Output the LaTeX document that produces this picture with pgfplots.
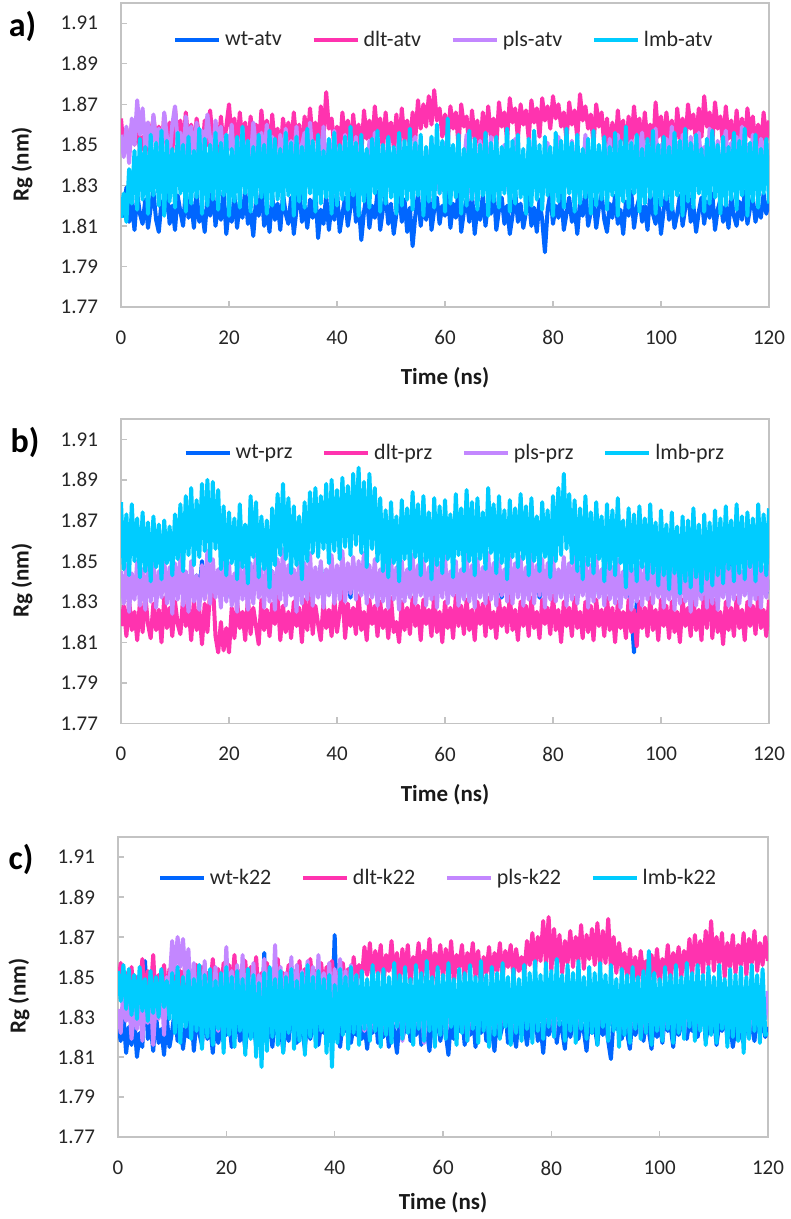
\documentclass[border=0pt]{standalone}
\usepackage{pgfplots}
\pgfplotsset{compat=1.18}
\usepackage{pgfplotstable}
\usepackage{fontspec}
\setmainfont{Carlito}
\definecolor{cwt}{RGB}{0,102,255}
\definecolor{cdlt}{RGB}{255,51,175}
\definecolor{cpls}{RGB}{195,135,255}
\definecolor{clmb}{RGB}{0,204,255}
\definecolor{framegray}{RGB}{195,195,195}

\pgfplotstableread{
t w d p l
0 1.824 1.863 1.855 1.814
0.5 1.815 1.848 1.844 1.826
1 1.829 1.858 1.859 1.812
1.5 1.812 1.846 1.841 1.838
2 1.821 1.860 1.863 1.821
2.5 1.808 1.850 1.850 1.847
3 1.826 1.862 1.872 1.818
3.5 1.816 1.847 1.855 1.853
4 1.811 1.854 1.868 1.823
4.5 1.823 1.844 1.849 1.849
5 1.809 1.861 1.861 1.816
5.5 1.819 1.849 1.843 1.855
6 1.827 1.864 1.865 1.825
6.5 1.813 1.852 1.852 1.851
7 1.807 1.859 1.858 1.820
7.5 1.822 1.845 1.840 1.857
8 1.816 1.865 1.866 1.815
8.5 1.830 1.850 1.854 1.852
9 1.811 1.861 1.844 1.822
9.5 1.820 1.846 1.860 1.848
10 1.808 1.868 1.869 1.819
10.5 1.825 1.853 1.851 1.856
11 1.817 1.862 1.856 1.826
11.5 1.810 1.848 1.839 1.850
12 1.828 1.866 1.864 1.817
12.5 1.814 1.851 1.849 1.854
13 1.822 1.860 1.859 1.821
13.5 1.809 1.847 1.842 1.847
14 1.826 1.863 1.861 1.824
14.5 1.812 1.854 1.835 1.858
15 1.818 1.844 1.857 1.816
15.5 1.807 1.862 1.848 1.853
16 1.824 1.850 1.865 1.820
16.5 1.815 1.867 1.853 1.850
17 1.829 1.852 1.843 1.823
17.5 1.810 1.860 1.862 1.856
18 1.821 1.846 1.851 1.818
18.5 1.813 1.864 1.859 1.851
19 1.827 1.849 1.840 1.825
19.5 1.806 1.859 1.855 1.855
20 1.819 1.870 1.848 1.815
20.5 1.812 1.853 1.860 1.848
21 1.825 1.863 1.838 1.822
21.5 1.809 1.848 1.853 1.854
22 1.822 1.866 1.843 1.819
22.5 1.814 1.851 1.858 1.859
23 1.828 1.861 1.836 1.826
23.5 1.811 1.845 1.852 1.852
24 1.817 1.864 1.841 1.817
24.5 1.805 1.850 1.861 1.849
25 1.823 1.860 1.849 1.821
25.5 1.815 1.847 1.834 1.855
26 1.830 1.867 1.856 1.824
26.5 1.810 1.852 1.843 1.850
27 1.819 1.862 1.860 1.816
27.5 1.807 1.846 1.838 1.857
28 1.825 1.865 1.854 1.820
28.5 1.813 1.849 1.844 1.853
29 1.821 1.858 1.832 1.823
29.5 1.808 1.844 1.855 1.848
30 1.826 1.863 1.840 1.818
30.5 1.816 1.853 1.858 1.856
31 1.811 1.861 1.837 1.825
31.5 1.824 1.847 1.852 1.851
32 1.806 1.866 1.842 1.815
32.5 1.818 1.851 1.859 1.854
33 1.829 1.860 1.835 1.822
33.5 1.812 1.845 1.850 1.849
34 1.820 1.864 1.856 1.819
34.5 1.809 1.850 1.839 1.858
35 1.823 1.868 1.861 1.826
35.5 1.814 1.852 1.844 1.852
36 1.827 1.861 1.831 1.817
36.5 1.804 1.848 1.853 1.855
37 1.818 1.869 1.842 1.821
37.5 1.811 1.854 1.859 1.847
38 1.825 1.876 1.836 1.824
38.5 1.808 1.858 1.851 1.853
39 1.821 1.863 1.841 1.816
39.5 1.813 1.849 1.857 1.856
40 1.828 1.859 1.833 1.820
40.5 1.807 1.846 1.849 1.850
41 1.816 1.866 1.838 1.823
41.5 1.824 1.852 1.855 1.854
42 1.810 1.862 1.829 1.818
42.5 1.819 1.847 1.844 1.859
43 1.831 1.865 1.837 1.825
43.5 1.812 1.850 1.854 1.851
44 1.822 1.860 1.834 1.815
44.5 1.803 1.845 1.850 1.855
45 1.817 1.867 1.840 1.822
45.5 1.826 1.853 1.828 1.848
46 1.809 1.862 1.852 1.819
46.5 1.820 1.848 1.836 1.853
47 1.814 1.869 1.856 1.826
47.5 1.827 1.854 1.839 1.857
48 1.808 1.863 1.831 1.817
48.5 1.818 1.847 1.848 1.850
49 1.825 1.866 1.834 1.821
49.5 1.811 1.851 1.853 1.854
50 1.821 1.861 1.827 1.824
50.5 1.806 1.849 1.843 1.849
51 1.816 1.865 1.837 1.816
51.5 1.828 1.846 1.855 1.856
52 1.812 1.868 1.833 1.820
52.5 1.823 1.852 1.849 1.852
53 1.807 1.862 1.830 1.823
53.5 1.819 1.848 1.844 1.858
54 1.800 1.866 1.838 1.818
54.5 1.815 1.853 1.854 1.851
55 1.826 1.872 1.832 1.825
55.5 1.810 1.858 1.848 1.855
56 1.822 1.870 1.829 1.815
56.5 1.813 1.859 1.842 1.849
57 1.829 1.874 1.836 1.822
57.5 1.808 1.860 1.853 1.854
58 1.818 1.877 1.831 1.819
58.5 1.824 1.862 1.843 1.860
59 1.811 1.868 1.826 1.826
59.5 1.820 1.854 1.839 1.852
60 1.815 1.865 1.851 1.817
60.5 1.827 1.851 1.834 1.863
61 1.809 1.869 1.824 1.821
61.5 1.821 1.858 1.841 1.850
62 1.814 1.866 1.833 1.824
62.5 1.828 1.850 1.850 1.855
63 1.807 1.870 1.827 1.816
63.5 1.817 1.859 1.840 1.848
64 1.823 1.864 1.855 1.820
64.5 1.812 1.848 1.835 1.857
65 1.826 1.867 1.823 1.823
65.5 1.806 1.853 1.844 1.853
66 1.819 1.862 1.832 1.818
66.5 1.813 1.846 1.852 1.850
67 1.825 1.866 1.828 1.825
67.5 1.810 1.852 1.842 1.856
68 1.822 1.869 1.836 1.815
68.5 1.816 1.854 1.854 1.851
69 1.829 1.863 1.830 1.822
69.5 1.808 1.849 1.848 1.854
70 1.818 1.871 1.825 1.819
70.5 1.824 1.859 1.839 1.849
71 1.811 1.866 1.850 1.826
71.5 1.820 1.852 1.833 1.858
72 1.806 1.873 1.824 1.817
72.5 1.815 1.861 1.841 1.852
73 1.827 1.868 1.853 1.821
73.5 1.812 1.853 1.829 1.855
74 1.821 1.870 1.843 1.824
74.5 1.809 1.860 1.836 1.848
75 1.817 1.867 1.826 1.816
75.5 1.825 1.853 1.849 1.853
76 1.810 1.872 1.834 1.820
76.5 1.819 1.861 1.856 1.857
77 1.807 1.868 1.830 1.823
77.5 1.823 1.854 1.842 1.850
78 1.813 1.873 1.825 1.818
78.5 1.797 1.862 1.838 1.854
79 1.818 1.869 1.851 1.825
79.5 1.826 1.858 1.832 1.849
80 1.811 1.874 1.823 1.815
80.5 1.820 1.863 1.840 1.856
81 1.814 1.870 1.854 1.822
81.5 1.827 1.859 1.835 1.852
82 1.808 1.866 1.827 1.819
82.5 1.816 1.852 1.844 1.858
83 1.824 1.871 1.831 1.826
83.5 1.812 1.860 1.852 1.851
84 1.819 1.867 1.836 1.817
84.5 1.806 1.853 1.826 1.855
85 1.822 1.875 1.843 1.821
85.5 1.815 1.862 1.833 1.848
86 1.828 1.869 1.855 1.824
86.5 1.810 1.858 1.838 1.853
87 1.817 1.865 1.828 1.816
87.5 1.823 1.850 1.848 1.857
88 1.809 1.870 1.834 1.820
88.5 1.819 1.859 1.841 1.850
89 1.826 1.866 1.825 1.823
89.5 1.813 1.849 1.850 1.854
90 1.807 1.863 1.837 1.818
90.5 1.821 1.847 1.853 1.849
91 1.814 1.861 1.830 1.825
91.5 1.825 1.845 1.843 1.856
92 1.811 1.867 1.855 1.815
92.5 1.818 1.852 1.836 1.852
93 1.806 1.862 1.827 1.822
93.5 1.822 1.846 1.849 1.859
94 1.815 1.864 1.833 1.819
94.5 1.827 1.850 1.852 1.851
95 1.809 1.869 1.840 1.826
95.5 1.819 1.853 1.829 1.855
96 1.824 1.863 1.848 1.817
96.5 1.812 1.848 1.856 1.848
97 1.820 1.866 1.836 1.821
97.5 1.808 1.851 1.851 1.853
98 1.826 1.860 1.832 1.824
98.5 1.816 1.846 1.844 1.857
99 1.811 1.871 1.858 1.816
99.5 1.823 1.854 1.838 1.850
100 1.806 1.864 1.850 1.820
100.5 1.818 1.849 1.831 1.854
101 1.827 1.866 1.853 1.823
101.5 1.813 1.852 1.840 1.849
102 1.821 1.862 1.859 1.818
102.5 1.809 1.847 1.835 1.856
103 1.816 1.868 1.851 1.825
103.5 1.825 1.853 1.830 1.852
104 1.810 1.863 1.855 1.815
104.5 1.819 1.850 1.841 1.858
105 1.828 1.870 1.834 1.822
105.5 1.812 1.858 1.854 1.851
106 1.820 1.865 1.843 1.819
106.5 1.807 1.851 1.832 1.855
107 1.817 1.868 1.856 1.826
107.5 1.824 1.854 1.839 1.848
108 1.811 1.874 1.849 1.817
108.5 1.822 1.859 1.833 1.853
109 1.814 1.866 1.858 1.821
109.5 1.826 1.851 1.842 1.857
110 1.808 1.871 1.837 1.824
110.5 1.818 1.858 1.852 1.850
111 1.823 1.864 1.831 1.816
111.5 1.812 1.849 1.848 1.854
112 1.820 1.869 1.857 1.820
112.5 1.809 1.853 1.836 1.849
113 1.825 1.862 1.851 1.823
113.5 1.815 1.847 1.834 1.856
114 1.810 1.867 1.854 1.818
114.5 1.822 1.852 1.840 1.852
115 1.813 1.863 1.859 1.825
115.5 1.827 1.848 1.838 1.858
116 1.811 1.868 1.850 1.815
116.5 1.819 1.854 1.835 1.851
117 1.824 1.864 1.855 1.822
117.5 1.812 1.850 1.843 1.855
118 1.820 1.860 1.837 1.819
118.5 1.814 1.846 1.853 1.848
119 1.826 1.866 1.844 1.826
119.5 1.816 1.852 1.839 1.853
120 1.822 1.862 1.851 1.821
}\tabA

\pgfplotstableread{
t w d p l
0 1.838 1.818 1.845 1.879
0.5 1.834 1.828 1.829 1.846
1 1.842 1.813 1.848 1.873
1.5 1.836 1.831 1.825 1.843
2 1.840 1.816 1.844 1.878
2.5 1.833 1.825 1.831 1.850
3 1.844 1.811 1.850 1.871
3.5 1.837 1.830 1.828 1.842
4 1.839 1.815 1.846 1.874
4.5 1.835 1.833 1.826 1.845
5 1.843 1.819 1.849 1.869
5.5 1.832 1.812 1.830 1.840
6 1.841 1.829 1.851 1.872
6.5 1.836 1.816 1.827 1.847
7 1.838 1.826 1.845 1.868
7.5 1.834 1.810 1.832 1.841
8 1.845 1.832 1.852 1.870
8.5 1.837 1.817 1.829 1.849
9 1.840 1.827 1.847 1.867
9.5 1.833 1.813 1.824 1.843
10 1.842 1.830 1.849 1.873
10.5 1.835 1.819 1.831 1.851
11 1.839 1.814 1.853 1.878
11.5 1.836 1.832 1.828 1.845
12 1.844 1.818 1.845 1.882
12.5 1.832 1.828 1.825 1.853
13 1.840 1.811 1.850 1.886
13.5 1.837 1.831 1.830 1.848
14 1.843 1.816 1.843 1.880
14.5 1.834 1.826 1.826 1.852
15 1.850 1.809 1.848 1.888
15.5 1.836 1.829 1.831 1.855
16 1.841 1.815 1.855 1.890
16.5 1.833 1.835 1.829 1.850
17 1.839 1.840 1.851 1.889
17.5 1.837 1.813 1.832 1.856
18 1.845 1.805 1.846 1.885
18.5 1.835 1.820 1.827 1.846
19 1.840 1.806 1.852 1.877
19.5 1.832 1.817 1.830 1.843
20 1.842 1.805 1.849 1.874
20.5 1.836 1.827 1.828 1.849
21 1.838 1.812 1.844 1.871
21.5 1.834 1.830 1.825 1.841
22 1.844 1.817 1.850 1.878
22.5 1.837 1.825 1.831 1.847
23 1.841 1.811 1.847 1.868
23.5 1.833 1.832 1.826 1.839
24 1.839 1.814 1.849 1.882
24.5 1.835 1.827 1.829 1.852
25 1.851 1.818 1.853 1.879
25.5 1.836 1.809 1.832 1.842
26 1.843 1.831 1.846 1.872
26.5 1.834 1.816 1.827 1.846
27 1.840 1.826 1.850 1.870
27.5 1.837 1.813 1.830 1.837
28 1.845 1.829 1.845 1.876
28.5 1.832 1.819 1.826 1.848
29 1.841 1.833 1.851 1.883
29.5 1.836 1.811 1.831 1.853
30 1.838 1.828 1.856 1.888
30.5 1.834 1.815 1.828 1.851
31 1.844 1.825 1.848 1.881
31.5 1.837 1.812 1.833 1.844
32 1.840 1.830 1.846 1.877
32.5 1.833 1.818 1.825 1.848
33 1.842 1.827 1.852 1.872
33.5 1.835 1.810 1.829 1.841
34 1.839 1.831 1.849 1.879
34.5 1.836 1.816 1.831 1.850
35 1.846 1.834 1.854 1.884
35.5 1.832 1.814 1.828 1.854
36 1.841 1.828 1.847 1.886
36.5 1.837 1.819 1.832 1.852
37 1.848 1.811 1.850 1.882
37.5 1.834 1.830 1.827 1.856
38 1.840 1.817 1.846 1.888
38.5 1.836 1.826 1.833 1.849
39 1.843 1.813 1.853 1.890
39.5 1.833 1.832 1.829 1.855
40 1.839 1.815 1.848 1.885
40.5 1.837 1.825 1.831 1.851
41 1.845 1.836 1.855 1.891
41.5 1.835 1.812 1.830 1.857
42 1.841 1.829 1.849 1.887
42.5 1.832 1.818 1.834 1.853
43 1.849 1.827 1.852 1.893
43.5 1.836 1.814 1.831 1.858
44 1.842 1.833 1.850 1.896
44.5 1.834 1.816 1.833 1.854
45 1.852 1.825 1.854 1.889
45.5 1.837 1.811 1.829 1.847
46 1.840 1.831 1.848 1.893
46.5 1.833 1.819 1.832 1.856
47 1.844 1.828 1.851 1.886
47.5 1.836 1.813 1.828 1.850
48 1.839 1.830 1.846 1.881
48.5 1.835 1.817 1.830 1.845
49 1.843 1.826 1.849 1.875
49.5 1.832 1.812 1.827 1.842
50 1.841 1.832 1.852 1.879
50.5 1.837 1.815 1.831 1.849
51 1.838 1.820 1.847 1.872
51.5 1.834 1.810 1.826 1.840
52 1.845 1.830 1.850 1.880
52.5 1.836 1.816 1.830 1.851
53 1.840 1.827 1.846 1.876
53.5 1.833 1.814 1.832 1.846
54 1.842 1.832 1.853 1.884
54.5 1.835 1.818 1.829 1.852
55 1.839 1.828 1.848 1.878
55.5 1.837 1.811 1.833 1.843
56 1.846 1.831 1.851 1.882
56.5 1.832 1.819 1.828 1.850
57 1.841 1.826 1.847 1.874
57.5 1.836 1.813 1.831 1.841
58 1.843 1.834 1.852 1.881
58.5 1.834 1.815 1.827 1.848
59 1.840 1.825 1.849 1.877
59.5 1.837 1.810 1.832 1.844
60 1.844 1.830 1.853 1.880
60.5 1.833 1.817 1.829 1.851
61 1.838 1.827 1.845 1.873
61.5 1.835 1.812 1.833 1.842
62 1.842 1.833 1.850 1.883
62.5 1.836 1.818 1.828 1.853
63 1.839 1.828 1.846 1.876
63.5 1.832 1.814 1.831 1.845
64 1.845 1.831 1.853 1.885
64.5 1.837 1.816 1.830 1.850
65 1.841 1.826 1.848 1.879
65.5 1.834 1.811 1.827 1.843
66 1.843 1.830 1.851 1.881
66.5 1.836 1.819 1.832 1.851
67 1.840 1.829 1.847 1.874
67.5 1.833 1.813 1.829 1.846
68 1.846 1.832 1.854 1.886
68.5 1.835 1.817 1.831 1.854
69 1.839 1.825 1.849 1.878
69.5 1.837 1.812 1.828 1.844
70 1.842 1.831 1.851 1.882
70.5 1.832 1.818 1.833 1.849
71 1.844 1.827 1.846 1.875
71.5 1.836 1.815 1.830 1.841
72 1.840 1.833 1.853 1.880
72.5 1.834 1.816 1.829 1.852
73 1.847 1.826 1.849 1.876
73.5 1.837 1.811 1.832 1.847
74 1.841 1.830 1.852 1.883
74.5 1.833 1.818 1.828 1.851
75 1.843 1.828 1.847 1.877
75.5 1.835 1.813 1.831 1.843
76 1.839 1.832 1.854 1.881
76.5 1.836 1.817 1.829 1.850
77 1.845 1.825 1.848 1.872
77.5 1.832 1.812 1.833 1.845
78 1.840 1.831 1.851 1.879
78.5 1.837 1.819 1.827 1.852
79 1.842 1.827 1.849 1.875
79.5 1.834 1.814 1.831 1.842
80 1.844 1.833 1.853 1.882
80.5 1.836 1.816 1.830 1.850
81 1.841 1.826 1.846 1.886
81.5 1.833 1.810 1.832 1.853
82 1.850 1.830 1.852 1.893
82.5 1.835 1.818 1.828 1.856
83 1.843 1.827 1.849 1.883
83.5 1.837 1.813 1.831 1.849
84 1.840 1.832 1.853 1.880
84.5 1.832 1.817 1.829 1.845
85 1.845 1.825 1.847 1.876
85.5 1.836 1.812 1.833 1.841
86 1.839 1.830 1.851 1.882
86.5 1.834 1.815 1.827 1.848
87 1.842 1.828 1.848 1.874
87.5 1.837 1.811 1.830 1.844
88 1.846 1.831 1.852 1.879
88.5 1.833 1.818 1.832 1.851
89 1.840 1.826 1.846 1.872
89.5 1.835 1.813 1.828 1.840
90 1.843 1.832 1.850 1.878
90.5 1.836 1.816 1.831 1.846
91 1.841 1.827 1.847 1.875
91.5 1.832 1.810 1.829 1.843
92 1.844 1.830 1.851 1.881
92.5 1.837 1.817 1.827 1.849
93 1.839 1.825 1.845 1.870
93.5 1.834 1.812 1.832 1.837
94 1.842 1.831 1.850 1.876
94.5 1.826 1.815 1.826 1.845
95 1.805 1.826 1.846 1.873
95.5 1.830 1.808 1.830 1.840
96 1.845 1.830 1.849 1.877
96.5 1.836 1.817 1.828 1.847
97 1.840 1.827 1.847 1.871
97.5 1.833 1.813 1.831 1.841
98 1.843 1.832 1.852 1.878
98.5 1.837 1.816 1.829 1.844
99 1.841 1.826 1.846 1.869
99.5 1.835 1.811 1.832 1.838
100 1.844 1.831 1.850 1.875
100.5 1.832 1.818 1.827 1.843
101 1.839 1.828 1.845 1.868
101.5 1.836 1.812 1.831 1.836
102 1.842 1.830 1.851 1.874
102.5 1.834 1.815 1.826 1.844
103 1.846 1.825 1.848 1.867
103.5 1.837 1.810 1.829 1.834
104 1.840 1.831 1.849 1.872
104.5 1.833 1.818 1.830 1.840
105 1.843 1.827 1.844 1.870
105.5 1.835 1.813 1.825 1.837
106 1.841 1.832 1.850 1.876
106.5 1.836 1.816 1.828 1.842
107 1.845 1.826 1.847 1.868
107.5 1.832 1.811 1.831 1.835
108 1.839 1.838 1.852 1.873
108.5 1.837 1.817 1.827 1.841
109 1.842 1.842 1.848 1.869
109.5 1.834 1.812 1.829 1.838
110 1.844 1.831 1.850 1.875
110.5 1.836 1.815 1.826 1.843
111 1.840 1.825 1.846 1.871
111.5 1.833 1.809 1.832 1.839
112 1.843 1.830 1.851 1.877
112.5 1.835 1.816 1.828 1.846
113 1.850 1.827 1.847 1.870
113.5 1.837 1.813 1.831 1.840
114 1.841 1.832 1.853 1.878
114.5 1.834 1.817 1.829 1.844
115 1.839 1.826 1.845 1.872
115.5 1.836 1.811 1.833 1.841
116 1.845 1.830 1.852 1.874
116.5 1.832 1.818 1.828 1.847
117 1.842 1.828 1.848 1.871
117.5 1.837 1.814 1.831 1.840
118 1.840 1.833 1.851 1.878
118.5 1.835 1.817 1.827 1.845
119 1.843 1.826 1.847 1.873
119.5 1.834 1.813 1.832 1.843
120 1.841 1.831 1.850 1.876
}\tabB

\pgfplotstableread{
t w d p l
0 1.826 1.845 1.834 1.853
0.5 1.818 1.857 1.822 1.838
1 1.831 1.838 1.845 1.856
1.5 1.812 1.852 1.828 1.834
2 1.825 1.841 1.840 1.854
2.5 1.816 1.855 1.819 1.831
3 1.829 1.836 1.836 1.851
3.5 1.810 1.850 1.824 1.829
4 1.822 1.843 1.842 1.855
4.5 1.815 1.859 1.818 1.833
5 1.858 1.837 1.838 1.849
5.5 1.819 1.853 1.827 1.828
6 1.827 1.840 1.846 1.853
6.5 1.813 1.861 1.816 1.832
7 1.832 1.835 1.839 1.850
7.5 1.817 1.851 1.829 1.830
8 1.824 1.844 1.848 1.854
8.5 1.811 1.856 1.821 1.835
9 1.830 1.839 1.850 1.848
9.5 1.815 1.854 1.846 1.829
10 1.823 1.842 1.868 1.852
10.5 1.834 1.858 1.852 1.822
11 1.818 1.837 1.870 1.855
11.5 1.828 1.853 1.855 1.817
12 1.814 1.845 1.869 1.850
12.5 1.826 1.860 1.848 1.825
13 1.820 1.839 1.864 1.853
13.5 1.835 1.851 1.832 1.819
14 1.813 1.846 1.857 1.849
14.5 1.829 1.856 1.827 1.823
15 1.822 1.840 1.853 1.856
15.5 1.816 1.855 1.831 1.814
16 1.833 1.836 1.858 1.851
16.5 1.819 1.852 1.826 1.820
17 1.827 1.844 1.849 1.854
17.5 1.812 1.859 1.829 1.816
18 1.830 1.838 1.855 1.848
18.5 1.817 1.854 1.823 1.824
19 1.824 1.841 1.850 1.852
19.5 1.835 1.857 1.833 1.812
20 1.821 1.840 1.865 1.855
20.5 1.828 1.856 1.828 1.821
21 1.815 1.843 1.853 1.850
21.5 1.826 1.861 1.830 1.815
22 1.833 1.837 1.856 1.853
22.5 1.818 1.853 1.826 1.823
23 1.825 1.845 1.861 1.849
23.5 1.814 1.858 1.834 1.811
24 1.829 1.839 1.852 1.854
24.5 1.820 1.855 1.829 1.819
25 1.827 1.842 1.857 1.851
25.5 1.816 1.860 1.825 1.810
26 1.831 1.838 1.851 1.847
26.5 1.823 1.852 1.833 1.805
27 1.862 1.846 1.859 1.852
27.5 1.819 1.857 1.828 1.813
28 1.828 1.840 1.854 1.855
28.5 1.815 1.854 1.831 1.820
29 1.832 1.843 1.866 1.849
29.5 1.821 1.859 1.827 1.816
30 1.826 1.837 1.855 1.853
30.5 1.813 1.852 1.835 1.812
31 1.830 1.845 1.852 1.850
31.5 1.818 1.856 1.826 1.822
32 1.834 1.839 1.860 1.854
32.5 1.822 1.853 1.830 1.814
33 1.817 1.842 1.856 1.848
33.5 1.828 1.858 1.834 1.818
34 1.824 1.841 1.853 1.852
34.5 1.814 1.854 1.828 1.811
35 1.831 1.838 1.858 1.856
35.5 1.819 1.859 1.832 1.820
36 1.826 1.844 1.855 1.850
36.5 1.833 1.853 1.827 1.815
37 1.816 1.840 1.861 1.853
37.5 1.827 1.857 1.831 1.823
38 1.822 1.843 1.852 1.849
38.5 1.835 1.855 1.826 1.812
39 1.818 1.839 1.857 1.851
39.5 1.829 1.858 1.833 1.805
40 1.871 1.845 1.854 1.846
40.5 1.825 1.852 1.829 1.817
41 1.815 1.840 1.859 1.854
41.5 1.828 1.857 1.834 1.821
42 1.823 1.846 1.853 1.850
42.5 1.832 1.854 1.828 1.814
43 1.817 1.839 1.856 1.855
43.5 1.826 1.860 1.831 1.822
44 1.821 1.847 1.851 1.851
44.5 1.834 1.856 1.827 1.816
45 1.819 1.849 1.845 1.853
45.5 1.827 1.865 1.823 1.824
46 1.814 1.851 1.841 1.849
46.5 1.829 1.867 1.820 1.818
47 1.822 1.848 1.838 1.856
47.5 1.833 1.863 1.826 1.823
48 1.817 1.852 1.843 1.852
48.5 1.826 1.866 1.819 1.815
49 1.820 1.846 1.836 1.854
49.5 1.831 1.861 1.829 1.821
50 1.815 1.853 1.845 1.850
50.5 1.828 1.868 1.821 1.817
51 1.823 1.849 1.840 1.857
51.5 1.812 1.862 1.827 1.825
52 1.830 1.845 1.844 1.851
52.5 1.819 1.864 1.818 1.819
53 1.825 1.851 1.837 1.855
53.5 1.834 1.866 1.828 1.822
54 1.818 1.847 1.846 1.849
54.5 1.827 1.860 1.822 1.816
55 1.821 1.854 1.839 1.856
55.5 1.832 1.867 1.825 1.824
56 1.816 1.848 1.843 1.852
56.5 1.829 1.863 1.817 1.818
57 1.824 1.852 1.836 1.858
57.5 1.813 1.869 1.830 1.823
58 1.828 1.846 1.847 1.850
58.5 1.820 1.862 1.823 1.815
59 1.835 1.853 1.840 1.855
59.5 1.818 1.866 1.826 1.821
60 1.826 1.849 1.844 1.851
60.5 1.822 1.864 1.820 1.819
61 1.811 1.851 1.838 1.857
61.5 1.830 1.868 1.828 1.825
62 1.819 1.847 1.845 1.849
62.5 1.827 1.861 1.822 1.816
63 1.823 1.855 1.839 1.854
63.5 1.833 1.866 1.829 1.822
64 1.816 1.848 1.843 1.852
64.5 1.828 1.862 1.818 1.818
65 1.821 1.854 1.836 1.856
65.5 1.831 1.867 1.827 1.824
66 1.815 1.850 1.846 1.850
66.5 1.826 1.863 1.824 1.817
67 1.822 1.845 1.840 1.858
67.5 1.834 1.860 1.830 1.823
68 1.818 1.852 1.844 1.851
68.5 1.829 1.865 1.821 1.815
69 1.824 1.848 1.837 1.855
69.5 1.813 1.862 1.828 1.821
70 1.830 1.853 1.846 1.852
70.5 1.820 1.867 1.823 1.819
71 1.826 1.849 1.841 1.857
71.5 1.835 1.863 1.829 1.825
72 1.817 1.855 1.845 1.850
72.5 1.828 1.866 1.819 1.816
73 1.823 1.850 1.838 1.854
73.5 1.815 1.864 1.830 1.822
74 1.832 1.853 1.843 1.849
74.5 1.821 1.860 1.824 1.818
75 1.827 1.851 1.840 1.856
75.5 1.816 1.868 1.828 1.824
76 1.829 1.856 1.845 1.852
76.5 1.822 1.872 1.822 1.817
77 1.834 1.854 1.839 1.858
77.5 1.818 1.870 1.830 1.823
78 1.826 1.858 1.846 1.851
78.5 1.812 1.878 1.824 1.819
79 1.830 1.857 1.842 1.857
79.5 1.821 1.880 1.827 1.825
80 1.825 1.853 1.848 1.853
80.5 1.833 1.874 1.820 1.820
81 1.817 1.856 1.838 1.859
81.5 1.828 1.871 1.831 1.826
82 1.823 1.852 1.844 1.851
82.5 1.814 1.868 1.826 1.818
83 1.831 1.857 1.840 1.856
83.5 1.820 1.873 1.829 1.823
84 1.826 1.855 1.847 1.852
84.5 1.835 1.870 1.822 1.817
85 1.819 1.858 1.837 1.858
85.5 1.827 1.876 1.830 1.824
86 1.823 1.854 1.845 1.850
86.5 1.813 1.871 1.825 1.819
87 1.830 1.859 1.841 1.855
87.5 1.822 1.874 1.828 1.822
88 1.826 1.856 1.846 1.852
88.5 1.816 1.877 1.821 1.816
89 1.832 1.855 1.839 1.857
89.5 1.821 1.873 1.830 1.825
90 1.827 1.857 1.843 1.851
90.5 1.818 1.879 1.826 1.818
91 1.809 1.854 1.838 1.856
91.5 1.829 1.870 1.831 1.823
92 1.824 1.852 1.845 1.849
92.5 1.833 1.867 1.823 1.815
93 1.819 1.853 1.840 1.854
93.5 1.827 1.862 1.829 1.821
94 1.822 1.849 1.844 1.851
94.5 1.814 1.864 1.822 1.817
95 1.830 1.848 1.838 1.855
95.5 1.821 1.860 1.827 1.824
96 1.826 1.846 1.843 1.850
96.5 1.835 1.863 1.820 1.819
97 1.818 1.851 1.837 1.853
97.5 1.828 1.858 1.829 1.822
98 1.823 1.845 1.845 1.863
98.5 1.814 1.861 1.823 1.816
99 1.831 1.849 1.839 1.852
99.5 1.820 1.864 1.828 1.823
100 1.827 1.847 1.843 1.849
100.5 1.817 1.859 1.819 1.818
101 1.832 1.852 1.836 1.855
101.5 1.823 1.866 1.830 1.824
102 1.826 1.848 1.846 1.851
102.5 1.815 1.862 1.824 1.817
103 1.830 1.854 1.840 1.856
103.5 1.821 1.865 1.827 1.822
104 1.826 1.850 1.844 1.850
104.5 1.834 1.863 1.821 1.819
105 1.819 1.853 1.838 1.857
105.5 1.828 1.869 1.829 1.825
106 1.823 1.851 1.846 1.852
106.5 1.836 1.871 1.823 1.818
107 1.820 1.855 1.840 1.856
107.5 1.829 1.868 1.828 1.823
108 1.835 1.852 1.844 1.851
108.5 1.818 1.873 1.822 1.816
109 1.826 1.856 1.839 1.855
109.5 1.822 1.878 1.830 1.821
110 1.831 1.853 1.845 1.850
110.5 1.816 1.870 1.824 1.817
111 1.827 1.857 1.841 1.856
111.5 1.823 1.872 1.827 1.824
112 1.833 1.850 1.843 1.849
112.5 1.819 1.867 1.820 1.815
113 1.828 1.855 1.838 1.854
113.5 1.815 1.871 1.829 1.820
114 1.824 1.852 1.846 1.851
114.5 1.830 1.866 1.823 1.818
115 1.821 1.856 1.840 1.855
115.5 1.817 1.872 1.828 1.812
116 1.829 1.851 1.844 1.850
116.5 1.823 1.869 1.822 1.819
117 1.826 1.857 1.839 1.856
117.5 1.818 1.873 1.830 1.823
118 1.831 1.853 1.845 1.851
118.5 1.822 1.867 1.825 1.817
119 1.827 1.856 1.841 1.854
119.5 1.820 1.870 1.829 1.821
120 1.825 1.858 1.843 1.822
}\tabC

\pgfplotsset{
  rgpanel/.style={
    scale only axis,
    xmin=0, xmax=120, ymin=1.77, ymax=1.92,
    xtick={0,20,40,60,80,100,120},
    ytick={1.77,1.79,1.81,1.83,1.85,1.87,1.89,1.91},
    yticklabels={1.77,1.79,1.81,1.83,1.85,1.87,1.89,1.91},
    xtick pos=bottom, ytick pos=left,
    tick align=inside, major tick length=3pt,
    axis line style={framegray, line width=0.7pt},
    tick style={framegray, line width=0.7pt},
    /pgf/number format/assume math mode=true,
    ticklabel style={font=\fontsize{10.5}{12}\selectfont, text=black!85},
    xticklabel style={yshift=-8.3pt},
    yticklabel style={xshift=-8pt},
    every axis y label/.style={at={(axis description cs:0,0.47)}, xshift=-49.5pt, rotate=90, anchor=center, font=\fontsize{11.5}{13}\selectfont\bfseries, text=black!90},
    ylabel={Rg (nm)},
    legend style={draw=none, fill=none, anchor=center, legend columns=4,
      font=\fontsize{11}{13}\selectfont, text=black!85,
      /tikz/every even column/.append style={column sep=13pt}},
    legend image code/.code={\draw[#1, line width=1.8pt] (0pt,0pt) -- (22pt,0pt);},
    every axis plot/.append style={line width=2pt, line join=round},
  }
}

\begin{document}
\begin{tikzpicture}
\useasboundingbox (0,0) rectangle (395.5pt,609.5pt);

% panel a
\begin{axis}[rgpanel, at={(60.5pt,456pt)}, anchor=south west, width=324pt, height=152pt,
  every axis x label/.style={at={(axis description cs:0.5,0)}, yshift=-35.5pt, anchor=center, font=\fontsize{11.5}{13}\selectfont\bfseries, text=black!90},
  xlabel={Time (ns)},
  legend style={at={(0.5,0.878)}}]
\addplot[cwt] table[x=t,y=w] {\tabA};
\addplot[cdlt] table[x=t,y=d] {\tabA};
\addplot[cpls] table[x=t,y=p] {\tabA};
\addplot[clmb] table[x=t,y=l] {\tabA};
\legend{wt-atv, dlt-atv, pls-atv, lmb-atv}
\end{axis}

% panel b
\begin{axis}[rgpanel, at={(60.5pt,247.75pt)}, anchor=south west, width=324pt, height=152.25pt,
  every axis x label/.style={at={(axis description cs:0.5,0)}, yshift=-35.75pt, anchor=center, font=\fontsize{11.5}{13}\selectfont\bfseries, text=black!90},
  xlabel={Time (ns)},
  legend style={at={(0.517,0.888)}}]
\addplot[cwt] table[x=t,y=w] {\tabB};
\addplot[cdlt] table[x=t,y=d] {\tabB};
\addplot[cpls] table[x=t,y=p] {\tabB};
\addplot[clmb] table[x=t,y=l] {\tabB};
\legend{wt-prz, dlt-prz, pls-prz, lmb-prz}
\end{axis}

% panel c
\begin{axis}[rgpanel, at={(59pt,41pt)}, anchor=south west, width=325pt, height=150pt,
  every axis x label/.style={at={(axis description cs:0.5,0)}, yshift=-33pt, anchor=center, font=\fontsize{11.5}{13}\selectfont\bfseries, text=black!90},
  xlabel={Time (ns)},
  legend style={at={(0.494,0.863)}}]
\addplot[cwt] table[x=t,y=w] {\tabC};
\addplot[cdlt] table[x=t,y=d] {\tabC};
\addplot[cpls] table[x=t,y=p] {\tabC};
\addplot[clmb] table[x=t,y=l] {\tabC};
\legend{wt-k22, dlt-k22, pls-k22, lmb-k22}
\end{axis}

\node[font=\fontsize{17}{20}\selectfont\bfseries] at (11.25pt,596.5pt) {a)};
\node[font=\fontsize{17}{20}\selectfont\bfseries] at (12.5pt,388.5pt) {b)};
\node[font=\fontsize{17}{20}\selectfont\bfseries] at (10.5pt,180pt) {c)};
\end{tikzpicture}
\end{document}
